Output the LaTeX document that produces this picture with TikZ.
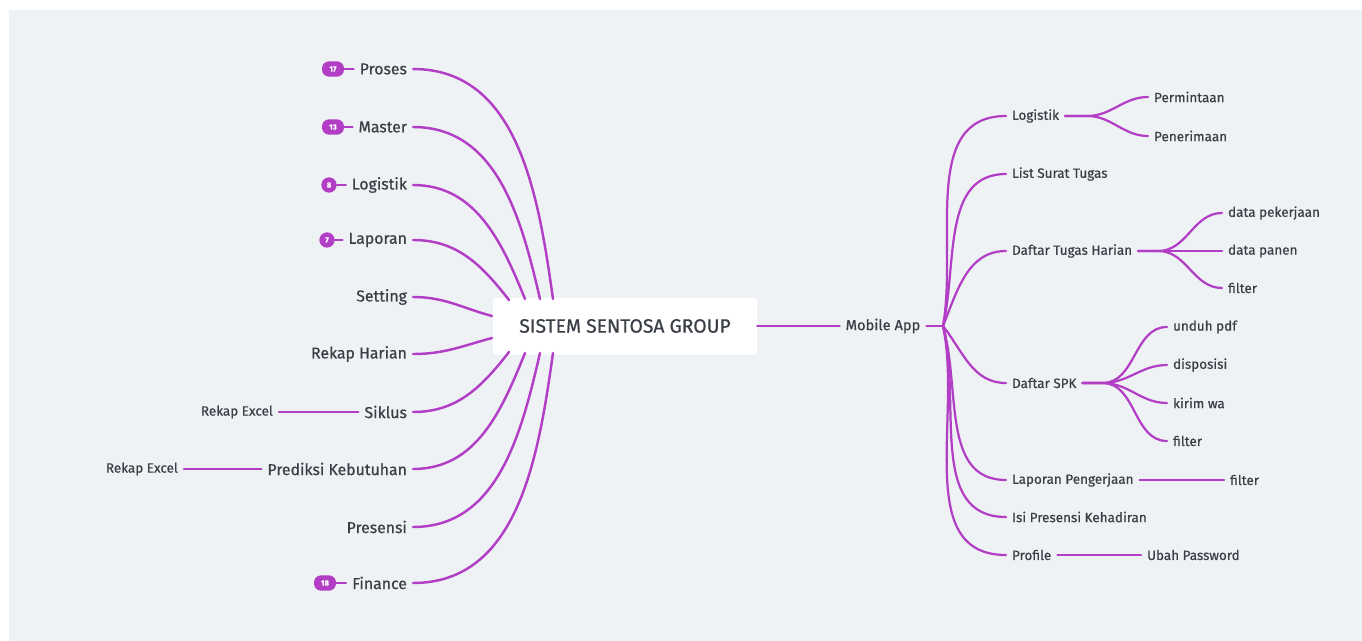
\documentclass[tikz,border=0pt]{standalone}
\usepackage{fontspec}
\setmainfont{Fira Sans}[FakeBold=0.6]
\usetikzlibrary{positioning}
\definecolor{branchPurple}{HTML}{B23EC6}
\definecolor{panelGray}{HTML}{EFF2F5}
\definecolor{inkGray}{HTML}{3A3F47}
\tikzset{
    root_box/.style={
        rectangle, rounded corners=3pt, fill=white,
        minimum width=7.92cm, minimum height=1.71cm,
        font=\fontsize{16.5}{19}\selectfont, text=inkGray
    },
    topic_lbl/.style={
        font=\fontsize{13.5}{15}\selectfont, text=inkGray, inner xsep=5pt, inner ysep=2pt
    },
    sub_lbl/.style={
        font=\fontsize{11.5}{13}\selectfont, text=inkGray, inner xsep=5pt, inner ysep=2pt
    },
    badge_pill/.style={
        rectangle, rounded corners=6pt, fill=branchPurple, text=white,
        minimum width=0.66cm, minimum height=0.46cm, inner sep=0pt,
        font=\fontsize{6.5}{6.5}\selectfont\bfseries
    },
    badge_dot/.style={
        circle, fill=branchPurple, text=white, minimum size=0.46cm, inner sep=0pt,
        font=\fontsize{6.5}{6.5}\selectfont\bfseries
    },
    branch_line/.style={draw=branchPurple, line width=2.1pt, line cap=round},
    twig_line/.style={draw=branchPurple, line width=1.9pt, line cap=round}
}
\begin{document}
\begin{tikzpicture}[x=0.03cm, y=-0.03cm]
    % canvas
    \useasboundingbox (0,0) rectangle (1362,641);
    \fill[panelGray] (9,10) rectangle (1362,641);

    % Root topic
    \node[root_box] (hub) at (625,326) {SISTEM SENTOSA GROUP};

    % Left main topics
    \node[topic_lbl, anchor=east] (proses) at (413,69) {Proses};
    \node[topic_lbl, anchor=east] (master) at (413,127) {Master};
    \node[topic_lbl, anchor=east] (logistikL) at (413,185) {Logistik};
    \node[topic_lbl, anchor=east] (laporan) at (413,240) {Laporan};
    \node[topic_lbl, anchor=east] (setting) at (413,297) {Setting};
    \node[topic_lbl, anchor=east] (rekapHarian) at (413,354) {Rekap Harian};
    \node[topic_lbl, anchor=east] (siklus) at (413,412) {Siklus};
    \node[topic_lbl, anchor=east] (prediksi) at (413,469) {Prediksi Kebutuhan};
    \node[topic_lbl, anchor=east] (presensi) at (413,527) {Presensi};
    \node[topic_lbl, anchor=east] (finance) at (413,583) {Finance};

    % Count badges
    \node[badge_pill] (bProses) at (333,69) {17};
    \node[badge_pill] (bMaster) at (333,127) {13};
    \node[badge_dot] (bLogistik) at (329,185) {8};
    \node[badge_dot] (bLaporan) at (327,240) {7};
    \node[badge_pill] (bFinance) at (325,583) {18};

    % Leaves on the left
    \node[sub_lbl, anchor=east] (rekapA) at (279,412) {Rekap Excel};
    \node[sub_lbl, anchor=east] (rekapB) at (184,469) {Rekap Excel};

    % Endpoints on the root box
    \coordinate (hT1) at (553,299);
    \coordinate (hT2) at (540,299);
    \coordinate (hT3) at (525,299);
    \coordinate (hT4) at (509,300);
    \coordinate (hL1) at (492,316);
    \coordinate (hL2) at (492,338);
    \coordinate (hB1) at (509,352);
    \coordinate (hB2) at (525,353);
    \coordinate (hB3) at (540,353);
    \coordinate (hB4) at (553,353);

    % Left branches
    \draw[branch_line] (proses.east) to[out=0, in=98] (hT1);
    \draw[branch_line] (master.east) to[out=0, in=103] (hT2);
    \draw[branch_line] (logistikL.east) to[out=0, in=112] (hT3);
    \draw[branch_line] (laporan.east) to[out=0, in=128] (hT4);
    \draw[branch_line] (setting.east) to[out=0, in=165] (hL1);
    \draw[branch_line] (rekapHarian.east) to[out=0, in=195] (hL2);
    \draw[branch_line] (siklus.east) to[out=0, in=232] (hB1);
    \draw[branch_line] (prediksi.east) to[out=0, in=248] (hB2);
    \draw[branch_line] (presensi.east) to[out=0, in=257] (hB3);
    \draw[branch_line] (finance.east) to[out=0, in=262] (hB4);

    \draw[twig_line] (bProses.east) -- (proses.west);
    \draw[twig_line] (bMaster.east) -- (master.west);
    \draw[twig_line] (bLogistik.east) -- (logistikL.west);
    \draw[twig_line] (bLaporan.east) -- (laporan.west);
    \draw[twig_line] (bFinance.east) -- (finance.west);
    \draw[twig_line] (siklus.west) -- (rekapA.east);
    \draw[twig_line] (prediksi.west) -- (rekapB.east);

    % Mobile App side
    \node[topic_lbl, font=\fontsize{12.5}{14}\selectfont] (mobile) at (883,326) {Mobile App};
    \coordinate (mFan) at (943,326);
    \draw[branch_line] (hub.east) -- (mobile.west);
    \draw[branch_line] (mobile.east) -- (mFan);

    \node[sub_lbl, anchor=west] (logistikR) at (1006,116) {Logistik};
    \node[sub_lbl, anchor=west] (listSurat) at (1006,174) {List Surat Tugas};
    \node[sub_lbl, anchor=west] (dtHarian) at (1006,251) {Daftar Tugas Harian};
    \node[sub_lbl, anchor=west] (daftarSpk) at (1006,383) {Daftar SPK};
    \node[sub_lbl, anchor=west] (lapKerja) at (1006,480) {Laporan Pengerjaan};
    \node[sub_lbl, anchor=west] (isiPresensi) at (1006,517) {Isi Presensi Kehadiran};
    \node[sub_lbl, anchor=west] (profile) at (1006,555) {Profile};

    \draw[twig_line] (mFan) to[out=80, in=180] (logistikR.west);
    \draw[twig_line] (mFan) to[out=77, in=180] (listSurat.west);
    \draw[twig_line] (mFan) to[out=68, in=180] (dtHarian.west);
    \draw[twig_line] (mFan) to[out=-52, in=180] (daftarSpk.west);
    \draw[twig_line] (mFan) to[out=-74, in=180] (lapKerja.west);
    \draw[twig_line] (mFan) to[out=-76, in=180] (isiPresensi.west);
    \draw[twig_line] (mFan) to[out=-78, in=180] (profile.west);

    % Logistik leaves
    \node[sub_lbl, anchor=west] (permintaan) at (1148,97) {Permintaan};
    \node[sub_lbl, anchor=west] (penerimaan) at (1148,136) {Penerimaan};
    \draw[twig_line] (logistikR.east) -- ++(22,0) to[out=0, in=180] (permintaan.west);
    \draw[twig_line] (logistikR.east) -- ++(22,0) to[out=0, in=180] (penerimaan.west);

    % Daftar Tugas Harian leaves
    \node[sub_lbl, anchor=west] (dataKerja) at (1222,213) {data pekerjaan};
    \node[sub_lbl, anchor=west] (dataPanen) at (1222,251) {data panen};
    \node[sub_lbl, anchor=west] (filterA) at (1222,288) {filter};
    \draw[twig_line] (dtHarian.east) -- ++(20,0) to[out=0, in=180] (dataKerja.west);
    \draw[twig_line] (dtHarian.east) -- (dataPanen.west);
    \draw[twig_line] (dtHarian.east) -- ++(20,0) to[out=0, in=180] (filterA.west);

    % Daftar SPK leaves
    \node[sub_lbl, anchor=west] (unduh) at (1167,327) {unduh pdf};
    \node[sub_lbl, anchor=west] (disposisi) at (1167,365) {disposisi};
    \node[sub_lbl, anchor=west] (kirim) at (1167,403) {kirim wa};
    \node[sub_lbl, anchor=west] (filterB) at (1167,441) {filter};
    \draw[twig_line] (daftarSpk.east) -- ++(20,0) to[out=0, in=180] (unduh.west);
    \draw[twig_line] (daftarSpk.east) -- ++(20,0) to[out=0, in=180] (disposisi.west);
    \draw[twig_line] (daftarSpk.east) -- ++(20,0) to[out=0, in=180] (kirim.west);
    \draw[twig_line] (daftarSpk.east) -- ++(20,0) to[out=0, in=180] (filterB.west);

    % Single leaves
    \node[sub_lbl, anchor=west] (filterC) at (1224,480) {filter};
    \node[sub_lbl, anchor=west] (ubahPass) at (1141,555) {Ubah Password};
    \draw[twig_line] (lapKerja.east) -- (filterC.west);
    \draw[twig_line] (profile.east) -- (ubahPass.west);
\end{tikzpicture}
\end{document}
